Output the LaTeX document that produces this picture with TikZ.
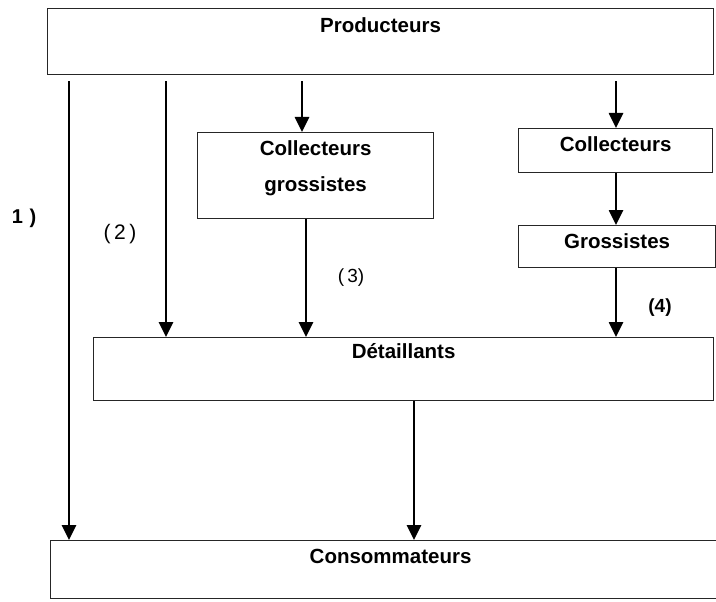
\documentclass[tikz,border=0pt]{standalone}
\usepackage{fontspec}
\setmainfont{Liberation Sans}
\usetikzlibrary{arrows.meta}
\begin{document}
\begin{tikzpicture}[x=1pt,y=-1pt,
  box/.style={draw=black!85, line width=1.2pt, fill=white, rectangle, inner sep=0pt, anchor=north west},
  boxtext/.style={font=\bfseries\fontsize{20.5}{24}\selectfont, anchor=base, inner sep=0pt},
  arr/.style={line width=2.6pt, -{Triangle[length=15pt,width=14pt]}},
  tag/.style={font=\fontsize{19}{22}\selectfont, inner sep=0pt}]
\clip (0,0) rectangle (716,602);
\fill[white] (0,0) rectangle (716,602);
% boxes
\node[box, minimum width=666pt, minimum height=66pt,
  label={[boxtext,yshift=-25pt]north:Producteurs}] (prod) at (47,8) {};
\node[box, minimum width=236pt, minimum height=86pt,
  label={[boxtext,yshift=-23pt]north:Collecteurs},
  label={[boxtext,yshift=-60pt]north:grossistes}] (cg) at (197,132) {};
\node[box, minimum width=194pt, minimum height=44pt,
  label={[boxtext,yshift=-24pt]north:Collecteurs}] (col) at (518,128) {};
\node[box, minimum width=197pt, minimum height=42pt,
  label={[boxtext,yshift=-23pt]north:Grossistes}] (gro) at (518,225) {};
\node[box, minimum width=620pt, minimum height=63pt,
  label={[boxtext,yshift=-21pt]north:Détaillants}] (det) at (93,337) {};
\node[box, minimum width=680pt, minimum height=58pt,
  label={[boxtext,yshift=-23pt]north:Consommateurs}] (con) at (50,540) {};
% columns
\coordinate (c1) at (69,0);
\coordinate (c2) at (166,0);
\coordinate (c3) at (302,0);
\coordinate (c4) at (616,0);
\coordinate (c5) at (306,0);
\coordinate (c6) at (414,0);
% arrows
\draw[arr, shorten <=6pt] (prod.south -| c1) -- (con.north -| c1);
\draw[arr, shorten <=6pt] (prod.south -| c2) -- (det.north -| c2);
\draw[arr, shorten <=6pt] (prod.south -| c3) -- (cg.north -| c3);
\draw[arr, shorten <=6pt] (prod.south -| c4) -- (col.north -| c4);
\draw[arr] (col.south -| c4) -- (gro.north -| c4);
\draw[arr] (gro.south -| c4) -- (det.north -| c4);
\draw[arr] (cg.south -| c5) -- (det.north -| c5);
\draw[arr] (det.south -| c6) -- (con.north -| c6);
% tags
\node[tag, font=\bfseries\fontsize{20}{23}\selectfont] (t1) at (24,218) {1\,\,)};
\node[tag, font=\fontsize{21}{24}\selectfont] (t2) at (120,234) {(\,2\,)};
\node[tag] (t3) at (351,278) {(\,3)};
\node[tag, font=\bfseries\fontsize{19}{22}\selectfont] (t4) at (660,308) {(4)};
\end{tikzpicture}
\end{document}
